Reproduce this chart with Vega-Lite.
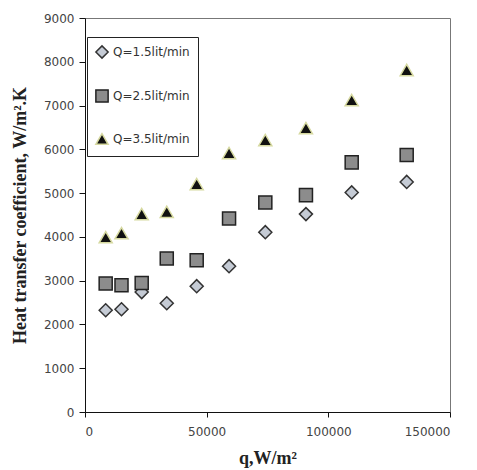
{
  "$schema": "https://vega.github.io/schema/vega-lite/v6.json",
  "width": 365,
  "height": 394,
  "autosize": {"type": "none"},
  "padding": {"left": 85, "top": 18, "right": 27, "bottom": 58},
  "background": "white",
  "config": {
    "view": {"stroke": "#777", "strokeWidth": 1},
    "axis": {
      "grid": false,
      "domainColor": "#111",
      "tickColor": "#111",
      "labelFont": "DejaVu Sans",
      "labelFontSize": 12,
      "labelColor": "#444",
      "titleFont": "Liberation Serif",
      "titleFontWeight": "bold",
      "titleFontSize": 18,
      "titleColor": "#222"
    }
  },
  "data": {
    "values": [
      {"q": 8500, "h": 2325, "series": "Q=1.5lit/min"},
      {"q": 15000, "h": 2348, "series": "Q=1.5lit/min"},
      {"q": 23300, "h": 2740, "series": "Q=1.5lit/min"},
      {"q": 33600, "h": 2485, "series": "Q=1.5lit/min"},
      {"q": 45900, "h": 2874, "series": "Q=1.5lit/min"},
      {"q": 59200, "h": 3331, "series": "Q=1.5lit/min"},
      {"q": 74100, "h": 4108, "series": "Q=1.5lit/min"},
      {"q": 90800, "h": 4520, "series": "Q=1.5lit/min"},
      {"q": 109600, "h": 5015, "series": "Q=1.5lit/min"},
      {"q": 132200, "h": 5255, "series": "Q=1.5lit/min"},
      {"q": 8500, "h": 2935, "series": "Q=2.5lit/min"},
      {"q": 15000, "h": 2897, "series": "Q=2.5lit/min"},
      {"q": 23300, "h": 2949, "series": "Q=2.5lit/min"},
      {"q": 33600, "h": 3507, "series": "Q=2.5lit/min"},
      {"q": 45900, "h": 3468, "series": "Q=2.5lit/min"},
      {"q": 59200, "h": 4421, "series": "Q=2.5lit/min"},
      {"q": 74100, "h": 4787, "series": "Q=2.5lit/min"},
      {"q": 90800, "h": 4954, "series": "Q=2.5lit/min"},
      {"q": 109600, "h": 5702, "series": "Q=2.5lit/min"},
      {"q": 132200, "h": 5869, "series": "Q=2.5lit/min"},
      {"q": 8500, "h": 3994, "series": "Q=3.5lit/min"},
      {"q": 15000, "h": 4085, "series": "Q=3.5lit/min"},
      {"q": 23300, "h": 4520, "series": "Q=3.5lit/min"},
      {"q": 33600, "h": 4572, "series": "Q=3.5lit/min"},
      {"q": 45900, "h": 5206, "series": "Q=3.5lit/min"},
      {"q": 59200, "h": 5915, "series": "Q=3.5lit/min"},
      {"q": 74100, "h": 6212, "series": "Q=3.5lit/min"},
      {"q": 90800, "h": 6486, "series": "Q=3.5lit/min"},
      {"q": 109600, "h": 7126, "series": "Q=3.5lit/min"},
      {"q": 132200, "h": 7812, "series": "Q=3.5lit/min"}
    ]
  },
  "mark": {"type": "point", "filled": true, "strokeWidth": 1.5, "opacity": 1, "size": 170},
  "encoding": {
    "x": {
      "field": "q",
      "type": "quantitative",
      "scale": {"domain": [0, 150000], "nice": false},
      "axis": {
        "title": "q,W/m²",
        "values": [0, 50000, 100000, 150000],
        "format": "d",
        "tickSize": 5,
        "labelPadding": 9,
        "titleBaseline": "middle",
        "titleY": 46
      }
    },
    "y": {
      "field": "h",
      "type": "quantitative",
      "scale": {"domain": [0, 9000], "nice": false},
      "axis": {
        "title": "Heat transfer coefficient, W/m².K",
        "values": [0, 1000, 2000, 3000, 4000, 5000, 6000, 7000, 8000, 9000],
        "format": "d",
        "tickSize": 6,
        "labelPadding": 5,
        "titleBaseline": "bottom",
        "titleX": -56
      }
    },
    "shape": {
      "field": "series",
      "type": "nominal",
      "scale": {"domain": ["Q=1.5lit/min", "Q=2.5lit/min", "Q=3.5lit/min"], "range": ["diamond", "square", "triangle-up"]},
      "legend": {
        "title": null,
        "orient": "none",
        "legendX": 2,
        "legendY": 19,
        "padding": 8,
        "rowPadding": 24,
        "labelFont": "DejaVu Sans",
        "labelFontSize": 12,
        "labelColor": "#333",
        "symbolSize": 150,
        "symbolStrokeWidth": 1.5,
        "strokeColor": "#222",
        "fillColor": "white",
        "labelOffset": 4
      }
    },
    "fill": {
      "field": "series",
      "type": "nominal",
      "scale": {"domain": ["Q=1.5lit/min", "Q=2.5lit/min", "Q=3.5lit/min"], "range": ["#c5cbd5", "#8c8c8c", "#111111"]}
    },
    "stroke": {
      "field": "series",
      "type": "nominal",
      "scale": {"domain": ["Q=1.5lit/min", "Q=2.5lit/min", "Q=3.5lit/min"], "range": ["#333333", "#222222", "#d6d9a0"]}
    }
  }
}
